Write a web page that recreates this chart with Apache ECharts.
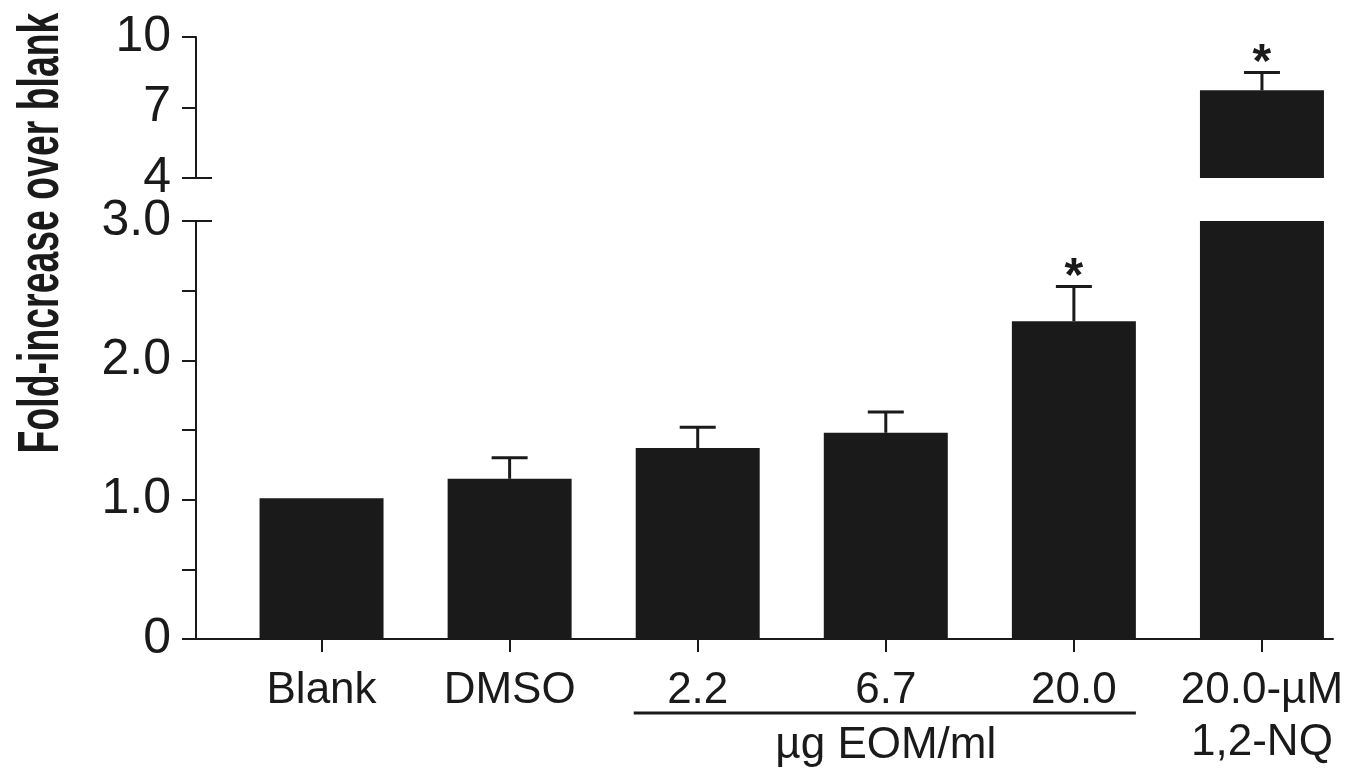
<!DOCTYPE html>
<html>
<head>
<meta charset="utf-8">
<script src="https://cdn.jsdelivr.net/npm/echarts@6/dist/echarts.min.js"></script>
<style>
html,body{margin:0;padding:0;background:#fff;}
#chart{width:1366px;height:779px;}
</style>
</head>
<body>
<div id="chart"></div>
<script>
// ---- data ----
const categories = ['Blank', 'DMSO', '2.2', '6.7', '20.0', '20.0-µM\n1,2-NQ'];
const means = [1.01, 1.15, 1.37, 1.48, 2.28, 7.73];
const errors = [0, 0.15, 0.15, 0.15, 0.25, 0.76];
const significant = [false, false, false, false, true, true];
const lowerTicks = [0, 1.0, 2.0, 3.0];
const upperTicks = [4, 7, 10];
const groupLabel = 'µg EOM/ml';
const yTitle = 'Fold-increase over blank';

const INK = '#1a1a1a';
const FONT = '"Liberation Sans", Arial, Helvetica, sans-serif';

const chart = echarts.init(document.getElementById('chart'), null, {renderer: 'canvas'});

function errRows(pred) {
  const rows = [];
  means.forEach((m, i) => {
    if (pred(m, i)) rows.push([i, m, errors[i], significant[i] ? 1 : 0]);
  });
  return rows;
}

function renderErr(params, api) {
  const i = api.value(0), m = api.value(1), e = api.value(2), s = api.value(3);
  const p0 = api.coord([i, m]);
  const p1 = api.coord([i, m + e]);
  const half = 18;
  const children = [];
  if (e > 0) {
    children.push({type: 'line', shape: {x1: p0[0], y1: p0[1], x2: p1[0], y2: p1[1]}, style: {stroke: INK, lineWidth: 3}});
    children.push({type: 'line', shape: {x1: p1[0] - half, y1: p1[1], x2: p1[0] + half, y2: p1[1]}, style: {stroke: INK, lineWidth: 3}});
  }
  if (s) {
    children.push({type: 'text', x: p1[0], y: p1[1] - 9,
      style: {text: '*', fill: INK, font: 'bold 48px ' + FONT, align: 'center', verticalAlign: 'middle'}});
  }
  return {type: 'group', children};
}

const axisLineStyle = {color: INK, width: 2};

const option = {
  backgroundColor: '#ffffff',
  animation: false,
  grid: [
    {left: 196, right: 33, top: 221, height: 418},
    {left: 227.5, right: 10, top: 221, height: 418},
    {left: 196, right: 33, top: 37, height: 141},
    {left: 227.5, right: 10, top: 37, height: 141}
  ],
  xAxis: [
    {gridIndex: 0, type: 'value', min: 0, max: 1, axisLine: {show: true, lineStyle: axisLineStyle},
      axisTick: {show: false}, axisLabel: {show: false}, splitLine: {show: false}},
    {gridIndex: 1, type: 'category', data: categories, axisLine: {show: false},
      axisTick: {show: true, alignWithLabel: true, length: 13, lineStyle: {color: INK, width: 2}},
      axisLabel: {color: INK, fontFamily: FONT, fontSize: 44, lineHeight: 52, margin: 26, interval: 0}},
    {gridIndex: 2, type: 'value', show: false, min: 0, max: 1},
    {gridIndex: 3, type: 'category', data: categories, show: false}
  ],
  yAxis: [
    {gridIndex: 0, type: 'value', min: 0, max: 3, interval: 0.5,
      axisLine: {show: true, lineStyle: axisLineStyle},
      axisTick: {show: true, length: 14, lineStyle: {color: INK, width: 2}},
      axisLabel: {color: INK, fontFamily: FONT, fontSize: 50, margin: 25,
        formatter: v => lowerTicks.some(t => Math.abs(t - v) < 1e-9) ? (v === 0 ? '0' : v.toFixed(1)) : ''},
      splitLine: {show: false}},
    {gridIndex: 1, type: 'value', min: 0, max: 3, show: false},
    {gridIndex: 2, type: 'value', min: 4, max: 10,
      axisLine: {show: true, lineStyle: axisLineStyle},
      axisTick: {show: true, length: 14, customValues: upperTicks, lineStyle: {color: INK, width: 2}},
      axisLabel: {color: INK, fontFamily: FONT, fontSize: 50, margin: 25, customValues: upperTicks},
      splitLine: {show: false}},
    {gridIndex: 3, type: 'value', min: 4, max: 10, show: false}
  ],
  series: [
    {type: 'bar', xAxisIndex: 1, yAxisIndex: 1, data: means, barWidth: 124, clip: true,
      itemStyle: {color: INK}},
    {type: 'bar', xAxisIndex: 3, yAxisIndex: 3, data: means.map(v => v > 4 ? v : '-'), barWidth: 124, clip: true,
      itemStyle: {color: INK}},
    {type: 'custom', xAxisIndex: 1, yAxisIndex: 1, renderItem: renderErr, clip: false,
      data: errRows(m => m <= 3)},
    {type: 'custom', xAxisIndex: 3, yAxisIndex: 3, renderItem: renderErr, clip: false,
      data: errRows(m => m > 4)}
  ]
};
chart.setOption(option);

// decorations derived from the axes
const axisX = chart.convertToPixel({gridIndex: 0}, [0, 0])[0];
const yBreakLow = chart.convertToPixel({gridIndex: 0}, [0, 3])[1];
const yBreakHigh = chart.convertToPixel({gridIndex: 2}, [0, 4])[1];
const yLabelRow = chart.convertToPixel({gridIndex: 0}, [0, 0])[1];
const x22 = chart.convertToPixel({xAxisIndex: 1, yAxisIndex: 1}, [2, 0])[0];
const x67 = chart.convertToPixel({xAxisIndex: 1, yAxisIndex: 1}, [3, 0])[0];
const x20 = chart.convertToPixel({xAxisIndex: 1, yAxisIndex: 1}, [4, 0])[0];

chart.setOption({
  graphic: [
    {type: 'line', shape: {x1: axisX - 14, y1: yBreakLow, x2: axisX + 16, y2: yBreakLow}, style: {stroke: INK, lineWidth: 2}},
    {type: 'line', shape: {x1: axisX - 14, y1: yBreakHigh, x2: axisX + 16, y2: yBreakHigh}, style: {stroke: INK, lineWidth: 2}},
    {type: 'line', shape: {x1: x22 - 64, y1: yLabelRow + 74, x2: x20 + 62, y2: yLabelRow + 74}, style: {stroke: INK, lineWidth: 3}},
    {type: 'text', x: x67, y: yLabelRow + 107,
      style: {text: groupLabel, fill: INK, font: '44px ' + FONT, align: 'center', verticalAlign: 'middle'}},
    {type: 'text', x: 42, y: 233, rotation: Math.PI / 2, scaleX: 0.645,
      style: {text: yTitle, fill: INK, font: 'bold 58px ' + FONT, align: 'center', verticalAlign: 'middle'}}
  ]
});
</script>
</body>
</html>
